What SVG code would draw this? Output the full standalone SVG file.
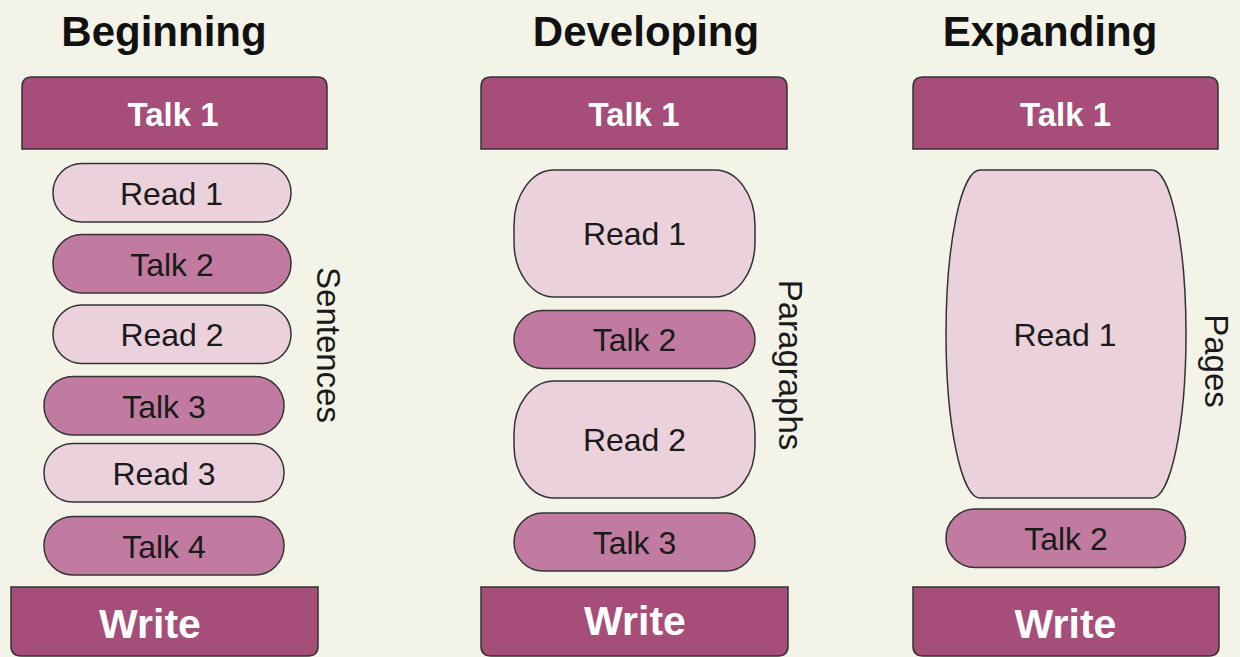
<svg xmlns="http://www.w3.org/2000/svg" width="1240" height="657" viewBox="0 0 1240 657">
<style>
.title{font-family:"Liberation Sans",Arial,sans-serif;font-weight:bold;font-size:42px;fill:#111;text-anchor:middle}
.hdr{fill:#a64d79;stroke:#333;stroke-width:1.5}
.hdrt{font-family:"Liberation Sans",Arial,sans-serif;font-weight:bold;font-size:33px;fill:#fff;text-anchor:middle}
.wrt{font-family:"Liberation Sans",Arial,sans-serif;font-weight:bold;font-size:41px;fill:#fff;text-anchor:middle}
.read{fill:#ead1dc;stroke:#333;stroke-width:1.5}
.talk{fill:#c27ba0;stroke:#333;stroke-width:1.5}
.lbl{font-family:"Liberation Sans",Arial,sans-serif;font-size:32px;fill:#1a1a1a;text-anchor:middle}
.side{font-family:"Liberation Sans",Arial,sans-serif;font-size:33px;fill:#1a1a1a;text-anchor:middle;dominant-baseline:central}
</style>
<rect x="0" y="0" width="1240" height="657" fill="#f3f3e8"/>

<text class="title" x="164" y="46">Beginning</text>
<text class="title" x="646" y="46">Developing</text>
<text class="title" x="1050" y="46">Expanding</text>

<g id="connectors"></g>

<!-- Beginning -->
<g id="b-talk1"><path class="hdr" d="M22,149 V87 Q22,77 32,77 H317 Q327,77 327,87 V149 Z"/><text class="hdrt" x="173" y="126">Talk 1</text></g>
<g id="b-read1"><rect class="read" x="53" y="163.5" width="238" height="58.5" rx="29" ry="29"/><text class="lbl" x="171.5" y="204.5">Read 1</text></g>
<g id="b-talk2"><rect class="talk" x="53" y="234.5" width="238" height="58.5" rx="29" ry="29"/><text class="lbl" x="172" y="275.5">Talk 2</text></g>
<g id="b-read2"><rect class="read" x="53" y="305" width="238" height="58.5" rx="29" ry="29"/><text class="lbl" x="172" y="346">Read 2</text></g>
<g id="b-talk3"><rect class="talk" x="44" y="376.5" width="240" height="58.5" rx="29" ry="29"/><text class="lbl" x="164" y="417.5">Talk 3</text></g>
<g id="b-read3"><rect class="read" x="44" y="443.5" width="240" height="58.5" rx="29" ry="29"/><text class="lbl" x="164" y="484.5">Read 3</text></g>
<g id="b-talk4"><rect class="talk" x="44" y="516.5" width="240" height="58.5" rx="29" ry="29"/><text class="lbl" x="164" y="557.5">Talk 4</text></g>
<g id="b-write"><path class="hdr" d="M11,587 H318 V646 Q318,656 308,656 H21 Q11,656 11,646 Z"/><text class="wrt" x="150" y="638">Write</text></g>
<g id="b-side"><text class="side" transform="translate(328,345) rotate(90)">Sentences</text></g>

<!-- Developing -->
<g id="d-talk1"><path class="hdr" d="M481,149 V87 Q481,77 491,77 H777 Q787,77 787,87 V149 Z"/><text class="hdrt" x="634" y="126">Talk 1</text></g>
<g id="d-read1"><rect class="read" x="514" y="170" width="241" height="127" rx="40" ry="55"/><text class="lbl" x="634.5" y="245">Read 1</text></g>
<g id="d-talk2"><rect class="talk" x="514" y="310.5" width="241" height="58" rx="29" ry="29"/><text class="lbl" x="634.5" y="351">Talk 2</text></g>
<g id="d-read2"><rect class="read" x="514" y="381" width="241" height="117" rx="40" ry="52"/><text class="lbl" x="634.5" y="451">Read 2</text></g>
<g id="d-talk3"><rect class="talk" x="514" y="513" width="241" height="58" rx="29" ry="29"/><text class="lbl" x="634.5" y="553.5">Talk 3</text></g>
<g id="d-write"><path class="hdr" d="M481,587 H788 V646 Q788,656 778,656 H491 Q481,656 481,646 Z"/><text class="wrt" x="635" y="635">Write</text></g>
<g id="d-side"><text class="side" transform="translate(790,365) rotate(90)">Paragraphs</text></g>

<!-- Expanding -->
<g id="e-talk1"><path class="hdr" d="M913,149 V87 Q913,77 923,77 H1208 Q1218,77 1218,87 V149 Z"/><text class="hdrt" x="1065.5" y="126">Talk 1</text></g>
<g id="e-read1"><rect class="read" x="946" y="170" width="240" height="328" rx="34" ry="164"/><text class="lbl" x="1065" y="345.5">Read 1</text></g>
<g id="e-talk2"><rect class="talk" x="946" y="509" width="239.5" height="58.5" rx="29" ry="29"/><text class="lbl" x="1066" y="550">Talk 2</text></g>
<g id="e-write"><path class="hdr" d="M913,587 H1219 V646 Q1219,656 1209,656 H923 Q913,656 913,646 Z"/><text class="wrt" x="1065.5" y="638">Write</text></g>
<g id="e-side"><text class="side" transform="translate(1216,361) rotate(90)">Pages</text></g>
</svg>
